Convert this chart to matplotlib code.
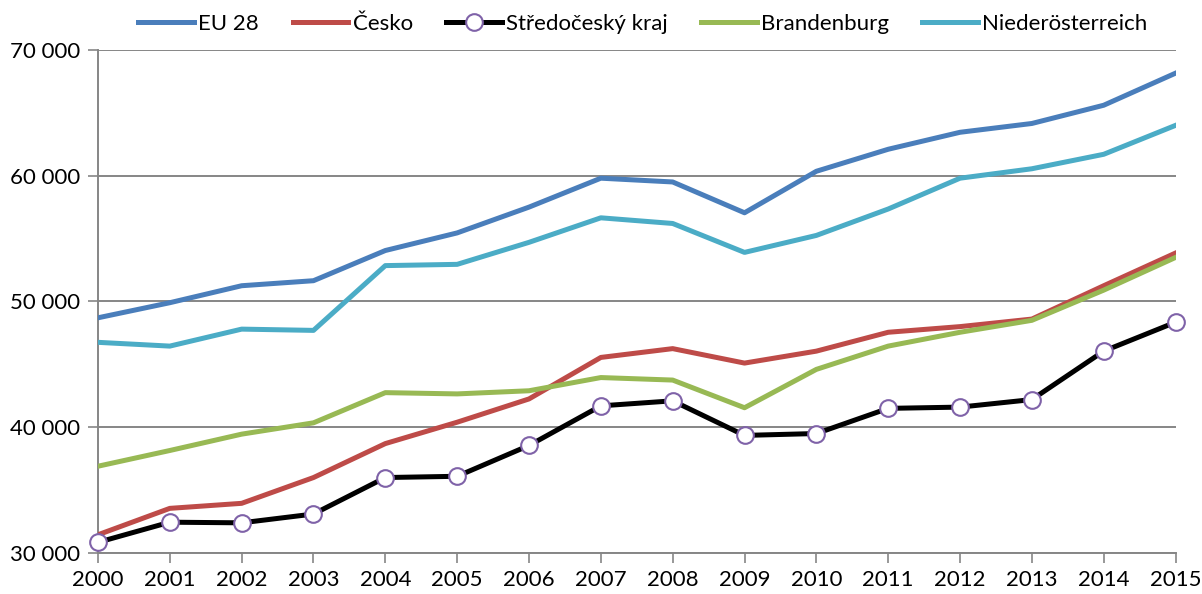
import matplotlib.pyplot as plt
from matplotlib.ticker import FuncFormatter

years = list(range(2000, 2016))

eu28 = [48700, 49900, 51250, 51650, 54050, 55450, 57500, 59800, 59500, 57050,
        60350, 62100, 63450, 64150, 65600, 68150]
cesko = [31450, 33550, 33950, 36000, 38700, 40400, 42250, 45550, 46250, 45100,
         46050, 47550, 48000, 48600, 51250, 53850]
stredocesky = [30850, 32450, 32400, 33100, 36000, 36100, 38550, 41700, 42100, 39350,
               39500, 41500, 41600, 42200, 46050, 48350]
brandenburg = [36900, 38150, 39450, 40350, 42750, 42650, 42900, 43950, 43750, 41550,
               44600, 46450, 47550, 48500, 50900, 53500]
niederoesterreich = [46750, 46450, 47800, 47700, 52850, 52950, 54700, 56650, 56200, 53900,
                     55250, 57350, 59800, 60550, 61700, 64000]

labels = ['EU 28', 'Česko', 'Středočeský kraj', 'Brandenburg', 'Niederösterreich']

plt.rcParams['font.family'] = ['Lato', 'DejaVu Sans']

fig = plt.figure(figsize=(12.02, 5.94), dpi=100)
ax = fig.add_axes([0.0815, 0.069, 0.8965, 0.847])

lw = 3.6
l1, = ax.plot(years, eu28, color='#4A7EBB', lw=lw, zorder=3)
l2, = ax.plot(years, cesko, color='#BE4B48', lw=lw, zorder=3)
l4, = ax.plot(years, brandenburg, color='#98B954', lw=lw, zorder=3)
l5, = ax.plot(years, niederoesterreich, color='#4BACC6', lw=lw, zorder=3)
l3, = ax.plot(years, stredocesky, color='black', lw=lw, zorder=4,
              marker='o', markersize=12, markerfacecolor='white',
              markeredgecolor='#7F62A8', markeredgewidth=1.5, clip_on=False)

ax.set_xlim(2000, 2015)
ax.set_ylim(30000, 70000)
ax.set_xticks(years)
ax.set_yticks([30000, 40000, 50000, 60000, 70000])
ax.yaxis.set_major_formatter(FuncFormatter(lambda v, p: f'{int(v):,}'.replace(',', ' ')))

ax.grid(axis='y', color='#868686', lw=1.4, zorder=0)
for s in ['top', 'right']:
    ax.spines[s].set_visible(False)
for s in ['left', 'bottom']:
    ax.spines[s].set_color('#868686')
    ax.spines[s].set_linewidth(1.4)
ax.tick_params(axis='both', colors='#868686', labelcolor='black', labelsize=16,
               length=7, width=1.2)
ax.tick_params(axis='y', pad=6)
ax.tick_params(axis='x', pad=5)

fig.legend([l1, l2, l3, l4, l5], labels, loc='upper center', bbox_to_anchor=(0.535, 1.01),
           ncol=5, frameon=False, fontsize=16, handlelength=2.5, handletextpad=0.2,
           columnspacing=1.5)

fig.savefig('out.png', dpi=100)
